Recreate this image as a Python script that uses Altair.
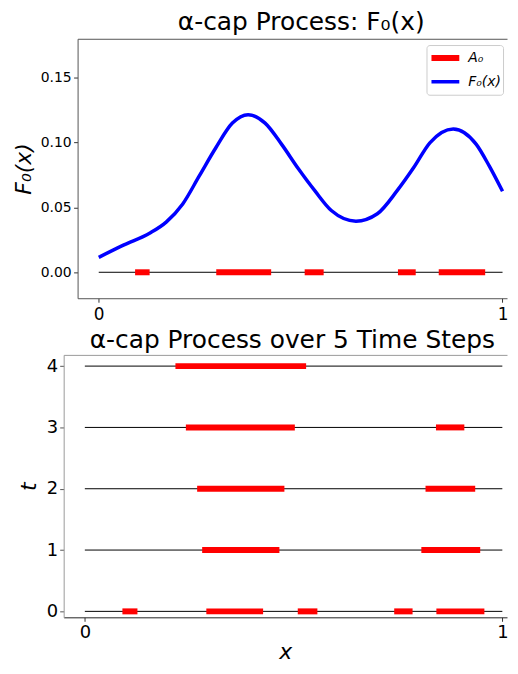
import altair as alt
import pandas as pd

FONT = "DejaVu Sans"

# ---- top panel data ----
a0_start = [0.090, 0.291, 0.510, 0.741, 0.842]
a0_end = [0.126, 0.427, 0.557, 0.785, 0.957]
curve_x = [0.0, 0.061, 0.127, 0.167, 0.208, 0.249, 0.290, 0.331, 0.370, 0.412, 0.453, 0.494,
           0.535, 0.576, 0.637, 0.690, 0.739, 0.780, 0.820, 0.878, 0.935, 0.967, 1.0]
curve_y = [0.0115, 0.0209, 0.0303, 0.0387, 0.0527, 0.0743, 0.0960, 0.1150, 0.1215, 0.1150, 0.0986, 0.0800,
           0.0629, 0.0476, 0.0394, 0.0451, 0.0629, 0.0807, 0.0998, 0.1105, 0.0986, 0.0820, 0.0624]
series_names = ["A₀", "F₀(x)"]

# ---- bottom panel data ----
steps = [0, 1, 2, 3, 4]
seg_t = [0, 0, 0, 0, 0, 1, 1, 2, 2, 3, 3, 4]
seg_start = a0_start + [0.281, 0.806, 0.269, 0.816, 0.242, 0.841, 0.217]
seg_end = a0_end + [0.466, 0.947, 0.478, 0.935, 0.503, 0.909, 0.530]

top_base = pd.DataFrame({"x0": [0.0], "x1": [1.0], "y": [0.0]})
top_seg = pd.DataFrame({"x0": a0_start, "x1": a0_end, "y": [0.0] * len(a0_start),
                        "series": [series_names[0]] * len(a0_start)})
curve = pd.DataFrame({"x": curve_x, "y": curve_y, "series": [series_names[1]] * len(curve_x)})

bot_base = pd.DataFrame({"x0": [0.0] * len(steps), "x1": [1.0] * len(steps), "t": steps})
bot_seg = pd.DataFrame({"x0": seg_start, "x1": seg_end, "t": seg_t})

W = 446          # common plot-group width (both panels share the same origin)
INSET = 14       # top panel frame starts 14 px right of the shared origin

# ---- top panel ----
xs_top = alt.Scale(domain=[-0.0524, 1.0111], range=[INSET, W], nice=False, zero=False)
ys_top = alt.Scale(domain=[-0.02, 0.18], nice=False, zero=False)

leg = alt.Legend(title=None, orient="none", legendX=365, legendY=6.3, symbolType="stroke",
                 symbolSize=784, clipHeight=22, rowPadding=2, labelFont=FONT, labelFontSize=14,
                 labelFontStyle="italic", labelColor="black", labelOffset=6, padding=2,
                 strokeColor="#cccccc", fillColor="white", cornerRadius=3)
color = alt.Color("series:N", scale=alt.Scale(domain=series_names, range=["#ff0000", "#0000ff"]), legend=leg)
swidth = alt.StrokeWidth("series:N", scale=alt.Scale(domain=series_names, range=[6, 3.5]), legend=leg)

top_axis_x = alt.Axis(orient="top", labels=False, ticks=False, domain=True, grid=False, title=None,
                      domainColor="#555", domainWidth=1)
bot_axis_x_top = alt.Axis(orient="bottom", values=[0, 1], format="d", labelFont=FONT, labelFontSize=17,
                          labelColor="black", tickSize=4, tickColor="#333", domainColor="#555",
                          labelPadding=4, grid=False, title=None)
y_axis_top = alt.Axis(values=[0, 0.05, 0.10, 0.15], format=".2f", labelFont=FONT, labelFontSize=14,
                      labelColor="black", tickSize=4, tickColor="#333", domainColor="#555", labelPadding=2.5,
                      offset=-INSET, grid=False, title="F₀(x)", titleFont=FONT, titleFontSize=22,
                      titleFontWeight="normal", titleFontStyle="italic", titleColor="black", titlePadding=5)

base_top = alt.Chart(top_base).mark_rule(color="black", strokeWidth=1).encode(
    x=alt.X("x0:Q", scale=xs_top, axis=top_axis_x),
    x2="x1:Q",
    y=alt.Y("y:Q", scale=ys_top, axis=y_axis_top),
)
seg_top = alt.Chart(top_seg).mark_rule(strokeCap="butt").encode(
    x=alt.X("x0:Q", scale=xs_top, axis=bot_axis_x_top),
    x2="x1:Q",
    y=alt.Y("y:Q", scale=ys_top, axis=y_axis_top),
    color=color,
    strokeWidth=swidth,
)
line_top = alt.Chart(curve).mark_line(interpolate="monotone").encode(
    x=alt.X("x:Q", scale=xs_top, axis=None),
    y=alt.Y("y:Q", scale=ys_top, axis=y_axis_top),
    color=color,
    strokeWidth=swidth,
)
top = alt.layer(base_top, seg_top, line_top).resolve_axis(x="independent").properties(
    width=W, height=261,
    title=alt.TitleParams("α-cap Process: F₀(x)", font=FONT, fontSize=25, fontWeight="normal",
                          color="black", offset=4, frame="group", dx=16),
)

# ---- bottom panel ----
xs_bot = alt.Scale(domain=[-0.0507, 1.0112], nice=False, zero=False)
ys_bot = alt.Scale(domain=[-0.097, 4.183], nice=False, zero=False)

bot_top_axis = alt.Axis(orient="top", labels=False, ticks=False, domain=True, grid=False, title=None,
                        domainColor="#999", domainWidth=1)
bot_x_axis = alt.Axis(orient="bottom", values=[0, 1], format="d", labelFont=FONT, labelFontSize=18,
                      labelColor="black", tickSize=4, tickColor="#333", domainColor="#222", labelPadding=2,
                      grid=False, title="x", titleFont=FONT, titleFontSize=22, titleFontWeight="normal",
                      titleFontStyle="italic", titleColor="black", titlePadding=0)
bot_y_axis = alt.Axis(values=steps, format="d", labelFont=FONT, labelFontSize=18, labelColor="black",
                      tickSize=4, tickColor="#555", domainColor="#999", labelPadding=2, grid=False,
                      title="t", titleFont=FONT, titleFontSize=22, titleFontWeight="normal",
                      titleFontStyle="italic", titleColor="black", titlePadding=6)

base_bot = alt.Chart(bot_base).mark_rule(color="black", strokeWidth=1).encode(
    x=alt.X("x0:Q", scale=xs_bot, axis=bot_top_axis),
    x2="x1:Q",
    y=alt.Y("t:Q", scale=ys_bot, axis=bot_y_axis),
)
seg_bot = alt.Chart(bot_seg).mark_rule(color="#ff0000", strokeWidth=6, strokeCap="butt").encode(
    x=alt.X("x0:Q", scale=xs_bot, axis=bot_x_axis),
    x2="x1:Q",
    y=alt.Y("t:Q", scale=ys_bot, axis=bot_y_axis),
)
bottom = alt.layer(base_bot, seg_bot).resolve_axis(x="independent").properties(
    width=W, height=264,
    title=alt.TitleParams("α-cap Process over 5 Time Steps", font=FONT, fontSize=25, fontWeight="normal",
                          color="black", offset=2, frame="group", dx=7),
)

chart = alt.vconcat(top, bottom, spacing=6).properties(
    padding={"left": 4, "top": 0, "right": 0, "bottom": 0}
).configure_view(stroke=None)

chart.save("out.html", embed_options={"renderer": "svg", "actions": False})
